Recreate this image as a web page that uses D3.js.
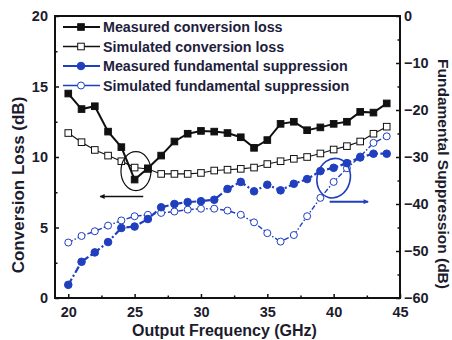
<!DOCTYPE html>
<html>
<head>
<meta charset="utf-8">
<script src="https://cdn.jsdelivr.net/npm/d3@7.9.0/dist/d3.min.js"></script>
<style>
  body { margin: 0; background: #fff; }
  svg { display: block; font-family: Arial, "Liberation Sans", sans-serif; font-weight: bold; }
</style>
</head>
<body>
<div id="chart"></div>
<script>
// Output frequency (GHz)
const freqs = [20, 21, 22, 23, 24, 25, 26, 27, 28, 29, 30, 31, 32, 33, 34, 35, 36, 37, 38, 39, 40, 41, 42, 43, 44];

// conversion loss (dB), left axis
const measuredLoss = [14.5, 13.4, 13.6, 11.8, 10.7, 8.4, 9.2, 10.1, 11.1, 11.65, 11.85, 11.8, 11.7, 11.4, 10.65,
  11.2, 12.35, 12.5, 11.9, 12.1, 12.35, 12.5, 13.2, 13.15, 13.8];
const simulatedLoss = [11.7, 11.05, 10.5, 10.1, 9.7, 9.25, 9.15, 8.8, 8.8, 8.8, 8.87, 9.04, 9.1, 9.16, 9.25,
  9.5, 9.7, 9.87, 10.0, 10.25, 10.53, 10.77, 11.1, 11.65, 12.15];

// fundamental suppression (dB), right axis
const measuredSupp = [-57.2, -52.3, -50.3, -48.1, -45.1, -44.8, -43.2, -40.7, -40.0, -39.6, -39.4, -39.1, -36.8, -35.3, -37.3,
  -35.9, -37.1, -35.7, -34.7, -33.0, -32.3, -31.3, -30.1, -29.3, -29.3];
const simulatedSupp = [-48.2, -46.8, -45.8, -44.6, -43.5, -42.6, -42.3, -41.9, -41.6, -41.2, -41.0, -41.0, -41.4, -42.3, -43.9,
  -46.2, -48.0, -46.6, -42.6, -38.7, -35.3, -32.4, -29.9, -27.0, -25.6];

const xTicks = [20, 25, 30, 35, 40, 45];
const leftTicks = [0, 5, 10, 15, 20];
const rightTicks = [-60, -50, -40, -30, -20, -10, 0];

const seriesNames = [
  "Measured conversion loss",
  "Simulated conversion loss",
  "Measured fundamental suppression",
  "Simulated fundamental suppression",
];

const width = 452;
const height = 340;
const margin = { top: 16, right: 52, bottom: 42, left: 55 };
const plot = {
  left: margin.left,
  right: width - margin.right,
  top: margin.top,
  bottom: height - margin.bottom,
};

const blue = "#1f3fbf";
const textColor = "#1c1c2c";

const svg = d3
  .select("#chart")
  .append("svg")
  .attr("width", width)
  .attr("height", height);

const xScale = d3.scaleLinear().domain([19, 45]).range([plot.left, plot.right]);
const yLeft = d3.scaleLinear().domain([0, 20]).range([plot.bottom, plot.top]);
const yRight = d3.scaleLinear().domain([-60, 0]).range([plot.bottom, plot.top]);

// axes, ticks point inward
function styleAxis(g) {
  g.select(".domain").remove();
  g.selectAll(".tick line").attr("stroke", "#111").attr("stroke-width", 1.5);
  g.selectAll(".tick text")
    .attr("fill", textColor)
    .style("font-size", "14.5px")
    .style("font-family", "Arial, 'Liberation Sans', sans-serif")
    .style("font-weight", "bold");
}

const minorX = [22.5, 27.5, 32.5, 37.5, 42.5];
const minorLeft = [2.5, 7.5, 12.5, 17.5];
const minorRight = [-55, -45, -35, -25, -15, -5];

svg.append("g")
  .attr("transform", `translate(0,${plot.bottom})`)
  .call(d3.axisBottom(xScale).tickValues(minorX).tickSize(-2.5).tickFormat(""))
  .call(styleAxis);
svg.append("g")
  .attr("transform", `translate(0,${plot.bottom})`)
  .call(d3.axisBottom(xScale).tickValues(xTicks).tickSize(-4).tickPadding(9))
  .call(styleAxis);

svg.append("g")
  .attr("transform", `translate(${plot.left},0)`)
  .call(d3.axisLeft(yLeft).tickValues(minorLeft).tickSize(-2.5).tickFormat(""))
  .call(styleAxis);
svg.append("g")
  .attr("transform", `translate(${plot.left},0)`)
  .call(d3.axisLeft(yLeft).tickValues(leftTicks).tickSize(-4).tickPadding(7))
  .call(styleAxis);

svg.append("g")
  .attr("transform", `translate(${plot.right},0)`)
  .call(d3.axisRight(yRight).tickValues(minorRight).tickSize(-2.5).tickFormat(""))
  .call(styleAxis);
svg.append("g")
  .attr("transform", `translate(${plot.right},0)`)
  .call(d3.axisRight(yRight).tickValues(rightTicks).tickSize(-4).tickPadding(4))
  .call(styleAxis);

// frame
svg.append("rect")
  .attr("x", plot.left)
  .attr("y", plot.top)
  .attr("width", plot.right - plot.left)
  .attr("height", plot.bottom - plot.top)
  .attr("fill", "none")
  .attr("stroke", "#111")
  .attr("stroke-width", 2);

// axis titles
svg.append("text")
  .attr("transform", `translate(${(plot.left + plot.right) / 2 - 3},${height - 4})`)
  .attr("text-anchor", "middle")
  .attr("fill", textColor)
  .style("font-size", "16px")
  .text("Output Frequency (GHz)");

svg.append("text")
  .attr("transform", `translate(24,185) rotate(-90)`)
  .attr("text-anchor", "middle")
  .attr("fill", textColor)
  .style("font-size", "17px")
  .text("Conversion Loss (dB)");

svg.append("text")
  .attr("transform", `translate(438,174) rotate(90)`)
  .attr("text-anchor", "middle")
  .attr("fill", textColor)
  .style("font-size", "15.5px")
  .text("Fundamental Suppression (dB)");

// series
const series = [
  { name: seriesNames[0], values: measuredLoss, y: yLeft, color: "#111", width: 2, dash: null, shape: "square", filled: true },
  { name: seriesNames[1], values: simulatedLoss, y: yLeft, color: "#111", width: 1.1, dash: null, shape: "square", filled: false },
  { name: seriesNames[2], values: measuredSupp, y: yRight, color: blue, width: 2.2, dash: "7 2.5 2 2.5", shape: "circle", filled: true },
  { name: seriesNames[3], values: simulatedSupp, y: yRight, color: blue, width: 1.4, dash: "5 2 1.5 2", shape: "circle", filled: false },
];

function drawMarker(g, shape, filled, color, x, y) {
  if (shape === "square") {
    g.append("rect")
      .attr("x", x - 3.3)
      .attr("y", y - 3.3)
      .attr("width", 6.6)
      .attr("height", 6.6)
      .attr("fill", filled ? color : "#fff")
      .attr("stroke", color)
      .attr("stroke-width", 1);
  } else {
    g.append("circle")
      .attr("cx", x)
      .attr("cy", y)
      .attr("r", filled ? 3.8 : 3.5)
      .attr("fill", filled ? color : "#fff")
      .attr("stroke", color)
      .attr("stroke-width", 1);
  }
}

// draw later series first so measured loss sits on top
for (let s of [...series].reverse()) {
  const pts = freqs.map((f, i) => [xScale(f), s.y(s.values[i])]);
  const line = d3.line();
  svg.append("path")
    .attr("d", line(pts))
    .attr("fill", "none")
    .attr("stroke", s.color)
    .attr("stroke-width", s.width)
    .attr("stroke-dasharray", s.dash);
  const g = svg.append("g");
  for (let [x, y] of pts) {
    drawMarker(g, s.shape, s.filled, s.color, x, y);
  }
}

// annotations
const arrowDefs = svg.append("defs");
function addHead(id, color) {
  arrowDefs.append("marker")
    .attr("id", id)
    .attr("viewBox", "0 0 10 10")
    .attr("refX", 9)
    .attr("refY", 5)
    .attr("markerWidth", 9)
    .attr("markerHeight", 5)
    .attr("markerUnits", "userSpaceOnUse")
    .attr("orient", "auto")
    .append("path")
    .attr("d", "M0,0 L10,5 L0,10 Z")
    .attr("fill", color);
}
addHead("head-black", "#111");
addHead("head-blue", blue);

svg.append("ellipse")
  .attr("cx", xScale(25.1))
  .attr("cy", yLeft(9.0))
  .attr("rx", 15)
  .attr("ry", 19.5)
  .attr("fill", "none")
  .attr("stroke", "#111")
  .attr("stroke-width", 1.2);

svg.append("line")
  .attr("x1", xScale(25.65))
  .attr("y1", yLeft(7.2))
  .attr("x2", xScale(22.4))
  .attr("y2", yLeft(7.2))
  .attr("stroke", "#111")
  .attr("stroke-width", 1.6)
  .attr("marker-end", "url(#head-black)");

const cx2 = xScale(40.0);
const cy2 = yRight(-34.5);
svg.append("ellipse")
  .attr("transform", `translate(${cx2},${cy2}) rotate(15)`)
  .attr("rx", 16.5)
  .attr("ry", 20)
  .attr("fill", "none")
  .attr("stroke", blue)
  .attr("stroke-width", 1.6);

svg.append("line")
  .attr("x1", xScale(39.7))
  .attr("y1", yRight(-39.5))
  .attr("x2", xScale(42.6))
  .attr("y2", yRight(-39.5))
  .attr("stroke", blue)
  .attr("stroke-width", 2)
  .attr("marker-end", "url(#head-blue)");

// legend
const legend = svg.append("g").attr("transform", "translate(63,27)");
series.forEach((s, i) => {
  const row = legend.append("g").attr("transform", `translate(0,${i * 19.5})`);
  row.append("line")
    .attr("x1", 0)
    .attr("x2", 37)
    .attr("y1", 0)
    .attr("y2", 0)
    .attr("stroke", s.color)
    .attr("stroke-width", s.filled ? 2 : 1.4);
  drawMarker(row, s.shape, s.filled, s.color, 18, 0);
  row.append("text")
    .attr("x", 40)
    .attr("y", 0)
    .attr("dy", "0.36em")
    .attr("fill", "#1e1e3c")
    .style("font-size", "14.3px")
    .text(s.name);
});
</script>
</body>
</html>
